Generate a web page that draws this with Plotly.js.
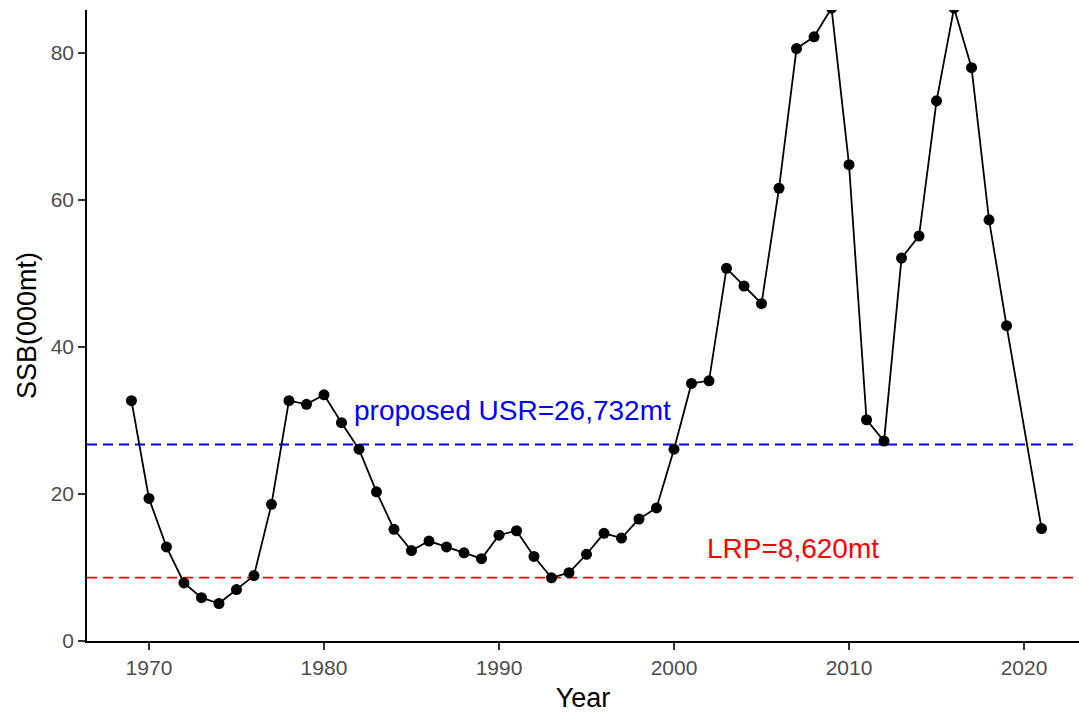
<!DOCTYPE html>
<html>
<head>
<meta charset="utf-8">
<script src="https://cdn.plot.ly/plotly-3.0.1.min.js"></script>
<style>html,body{margin:0;padding:0;background:#fff;}#chart{width:1079px;height:713px;}</style>
</head>
<body>
<div id="chart"></div>
<script>
const years = [1969,1970,1971,1972,1973,1974,1975,1976,1977,1978,1979,1980,1981,1982,1983,1984,1985,1986,1987,1988,1989,1990,1991,1992,1993,1994,1995,1996,1997,1998,1999,2000,2001,2002,2003,2004,2005,2006,2007,2008,2009,2010,2011,2012,2013,2014,2015,2016,2017,2018,2019,2020,2021];
const ssb = [32.7,19.4,12.8,7.9,5.9,5.1,7.0,8.9,18.6,32.7,32.2,33.5,29.7,26.1,20.3,15.2,12.3,13.6,12.8,12.0,11.2,14.4,15.0,11.5,8.6,9.3,11.8,14.65,14.0,16.6,18.1,26.1,35.05,35.4,50.7,48.3,45.9,61.6,80.6,82.2,86.1,64.8,30.1,27.2,52.1,55.1,73.5,86.1,78.0,57.3,42.9,null,15.3];
const usr = 26.732;
const lrp = 8.62;
const usrLabel = "proposed USR=26,732mt";
const lrpLabel = "LRP=8,620mt";
const xTicks = [1970,1980,1990,2000,2010,2020];
const yTicks = [0,20,40,60,80];

const font = "Liberation Sans, Arial, sans-serif";

const trace = {
  x: years, y: ssb, type: 'scatter', mode: 'lines+markers',
  connectgaps: true,
  line: {color: '#000000', width: 1.8},
  marker: {color: '#000000', size: 11},
  hoverinfo: 'x+y'
};

const layout = {
  width: 1079, height: 713,
  margin: {l: 87, r: 0, t: 10, b: 72},
  paper_bgcolor: '#ffffff', plot_bgcolor: '#ffffff',
  showlegend: false,
  font: {family: font},
  xaxis: {
    range: [1966.46, 2023.14], tickvals: xTicks, ticktext: xTicks.map(String),
    showgrid: false, zeroline: false, showline: true, linecolor: '#000000', linewidth: 1.8,
    ticks: 'outside', ticklen: 7, tickcolor: '#333333', tickwidth: 1.5,
    tickfont: {family: font, size: 21, color: '#4D4D4D'},
    title: {text: 'Year', font: {family: font, size: 27, color: '#000000'}, standoff: 10}
  },
  yaxis: {
    range: [0, 85.85], tickvals: yTicks, ticktext: yTicks.map(String),
    showgrid: false, zeroline: false, showline: true, linecolor: '#000000', linewidth: 1.8,
    ticks: 'outside', ticklen: 7, tickcolor: '#333333', tickwidth: 1.5,
    tickfont: {family: font, size: 21, color: '#4D4D4D'},
    title: {text: 'SSB(000mt)', font: {family: font, size: 27, color: '#000000'}, standoff: 6}
  },
  shapes: [
    {type: 'line', xref: 'paper', x0: 0, x1: 1, yref: 'y', y0: usr, y1: usr,
     line: {color: '#0000FF', width: 1.8, dash: '10px,6px'}, layer: 'below'},
    {type: 'line', xref: 'paper', x0: 0, x1: 1, yref: 'y', y0: lrp, y1: lrp,
     line: {color: '#FF0000', width: 1.8, dash: '10px,6px'}, layer: 'below'}
  ],
  annotations: [
    {x: 1990.8, y: 31.4, xref: 'x', yref: 'y', text: usrLabel, showarrow: false,
     font: {family: font, size: 28, color: '#0000FF'}, xanchor: 'center', yanchor: 'middle'},
    {x: 2006.8, y: 12.6, xref: 'x', yref: 'y', text: lrpLabel, showarrow: false,
     font: {family: font, size: 28, color: '#FF0000'}, xanchor: 'center', yanchor: 'middle'}
  ]
};

Plotly.newPlot('chart', [trace], layout, {displayModeBar: false, staticPlot: true});
</script>
</body>
</html>
